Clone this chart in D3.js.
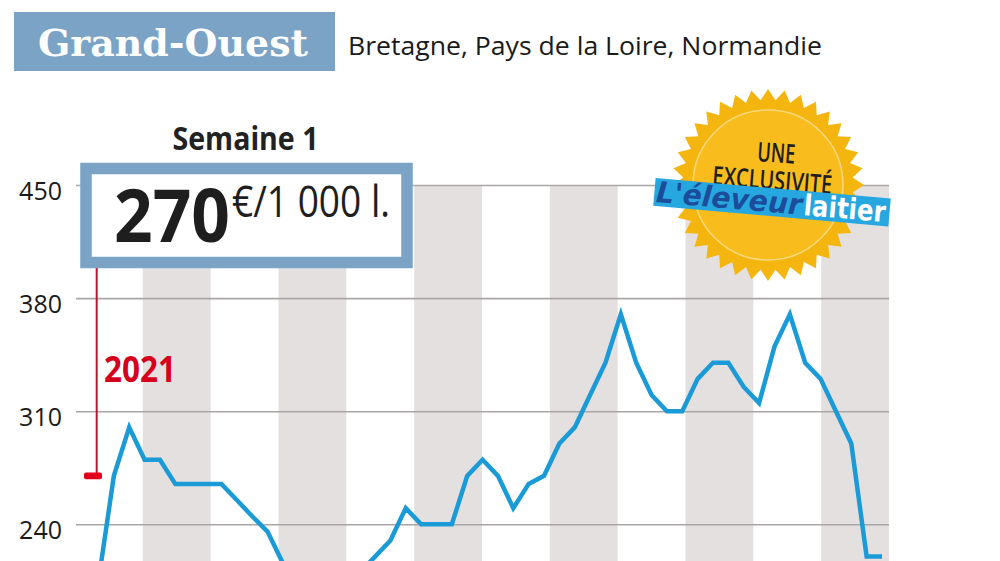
<!DOCTYPE html>
<html>
<head>
<meta charset="utf-8">
<script src="https://cdn.jsdelivr.net/npm/d3@7"></script>
<style>
  html, body { margin: 0; padding: 0; background: #fff; }
  svg { display: block; }
</style>
</head>
<body>
<div id="chart"></div>
<script>
// ---------- data ----------
const title = "Grand-Ouest";
const subtitle = "Bretagne, Pays de la Loire, Normandie";
const weekLabel = "Semaine 1";
const unitLabel = "€/1 000 l.";
const refYear = "2021";
const refValue = 270;
const months = ["janv.", "févr.", "mars", "avr.", "mai", "juin", "juil.", "août", "sept.", "oct.", "nov.", "déc."];
const weeks = [1,2,3,4,5,6,7,8,9,10,11,12,13,14,15,16,17,18,19,20,21,22,23,24,25,26,
               27,28,29,30,31,32,33,34,35,36,37,38,39,40,41,42,43,44,45,46,47,48,49,50,51,52];
const prices = [205,270,300,280,280,265,265,265,265,255,245,235.5,216,205,200,200,200,210,220,230,250,240,240,240,270,280,
                270,250,265,270,290,300,320,340,370,340,320,310,310,330,340,340,325,315,350,370,340,330,310,290,220,220];
const yTicks = [240, 310, 380, 450];

// ---------- setup ----------
const W = 1000, H = 561;
const svg = d3.select("#chart").append("svg").attr("width", W).attr("height", H);
const sans = "'Open Sans', 'Noto Sans', sans-serif";

const plotLeft = 76, plotRight = 889;
const y = d3.scaleLinear().domain([240, 450]).range([524.3, 185]);
const x = d3.scaleLinear().domain([1, 52]).range([98.5, 882]);
const xm = d3.scaleBand().domain(months).range([75, 889]).paddingInner(0);

// ---------- header ----------
svg.append("rect").attr("x", 14).attr("y", 12).attr("width", 321).attr("height", 59).attr("fill", "#7aa3c5");
svg.append("text").attr("x", 38).attr("y", 56)
  .attr("font-family", "'DejaVu Serif', serif").attr("font-weight", "bold").attr("font-size", 37)
  .attr("fill", "#fff").attr("textLength", 270).attr("lengthAdjust", "spacingAndGlyphs").text(title);
svg.append("text").attr("x", 348).attr("y", 55)
  .attr("font-family", sans).attr("font-size", 26).attr("fill", "#1a1a1a")
  .attr("textLength", 474).attr("lengthAdjust", "spacingAndGlyphs").text(subtitle);

// ---------- bands ----------
svg.append("g").selectAll("rect").data(months.filter((m, i) => i % 2 === 1)).join("rect")
  .attr("x", d => xm(d)).attr("width", xm.bandwidth())
  .attr("y", y(450)).attr("height", H - y(450))
  .attr("fill", "#e4e0e0");

// ---------- axis / grid ----------
const axis = svg.append("g").attr("transform", `translate(${plotLeft},0)`)
  .call(d3.axisLeft(y).tickValues(yTicks).tickSize(-(plotRight - plotLeft)).tickPadding(14).tickFormat(d3.format("d")));
axis.select(".domain").remove();
axis.selectAll(".tick line").attr("stroke", "#aaa6a6").attr("stroke-width", 1.6);
axis.selectAll(".tick text").attr("font-family", sans).attr("font-size", 25).attr("fill", "#1a1a1a")
  .attr("dy", "0.58em");

// ---------- line ----------
const line = d3.line().x((d, i) => x(weeks[i])).y(d => y(d));
svg.append("path").datum(prices).attr("d", line)
  .attr("fill", "none").attr("stroke", "#1a9ad6").attr("stroke-width", 4.5)
  .attr("stroke-linejoin", "miter").attr("stroke-miterlimit", 4);

// ---------- 2021 reference marker ----------
svg.append("line").attr("x1", 96.7).attr("x2", 96.7).attr("y1", 266).attr("y2", y(refValue))
  .attr("stroke", "#c0142d").attr("stroke-width", 2);
svg.append("rect").attr("x", 84).attr("y", y(refValue) - 3.3).attr("width", 18).attr("height", 6.6)
  .attr("rx", 2).attr("fill", "#e2001a");
svg.append("text").attr("x", 104).attr("y", 382)
  .attr("font-family", sans).attr("font-weight", "bold").attr("font-size", 35).attr("fill", "#d6001c")
  .attr("textLength", 72).attr("lengthAdjust", "spacingAndGlyphs").text(refYear);

// ---------- value box ----------
svg.append("text").attr("x", 245.5).attr("y", 150).attr("text-anchor", "middle")
  .attr("font-family", sans).attr("font-weight", "bold").attr("font-size", 33).attr("fill", "#222")
  .attr("textLength", 146).attr("lengthAdjust", "spacingAndGlyphs").text(weekLabel);
svg.append("rect").attr("x", 86).attr("y", 168.5).attr("width", 321).attr("height", 94)
  .attr("fill", "#fff").attr("stroke", "#7aa3c5").attr("stroke-width", 11.5);
svg.append("text").attr("x", 114).attr("y", 241.5)
  .attr("font-family", sans).attr("font-weight", "bold").attr("font-size", 74).attr("fill", "#1e1e1e")
  .attr("textLength", 116).attr("lengthAdjust", "spacingAndGlyphs").text(String(refValue));
svg.append("text").attr("x", 232).attr("y", 216.5)
  .attr("font-family", sans).attr("font-size", 43).attr("fill", "#1e1e1e")
  .attr("textLength", 158).attr("lengthAdjust", "spacingAndGlyphs").text(unitLabel);

// ---------- badge ----------
const badge = svg.append("g").attr("transform", "translate(768,185)");
const nTeeth = 36;
const starPts = d3.range(nTeeth * 2).map(i => [i * Math.PI / nTeeth, i % 2 === 0 ? 96 : 85]);
badge.append("path").attr("d", d3.lineRadial().curve(d3.curveLinearClosed)(starPts)).attr("fill", "#f5b50f");
badge.append("circle").attr("r", 75).attr("fill", "#f8bd1c").attr("stroke", "#fcd980").attr("stroke-width", 1.5);
badge.append("text").attr("x", 6).attr("y", -23).attr("text-anchor", "middle")
  .attr("transform", "rotate(4)")
  .attr("font-family", sans).attr("font-weight", 600).attr("font-size", 27).attr("fill", "#1e1e1e")
  .attr("textLength", 38).attr("lengthAdjust", "spacingAndGlyphs").text("UNE");
badge.append("text").attr("x", 4).attr("y", 4).attr("text-anchor", "middle")
  .attr("transform", "rotate(4.5)")
  .attr("font-family", sans).attr("font-weight", 600).attr("font-size", 26).attr("fill", "#1e1e1e")
  .attr("textLength", 120).attr("lengthAdjust", "spacingAndGlyphs").text("EXCLUSIVITÉ");
const banner = svg.append("g").attr("transform", "translate(770,202) rotate(5)");
banner.append("rect").attr("x", -116).attr("y", -14).attr("width", 236).attr("height", 28).attr("fill", "#27a7df");
banner.append("text").attr("x", -114).attr("y", 10)
  .attr("font-family", "'DejaVu Sans', sans-serif").attr("font-weight", "bold").attr("font-style", "italic")
  .attr("font-size", 29).attr("fill", "#1b4d9b")
  .attr("textLength", 146).attr("lengthAdjust", "spacingAndGlyphs").text("L'éleveur");
banner.append("text").attr("x", 34).attr("y", 10)
  .attr("font-family", "'DejaVu Sans', sans-serif").attr("font-weight", "bold")
  .attr("font-size", 29).attr("fill", "#fff")
  .attr("textLength", 82).attr("lengthAdjust", "spacingAndGlyphs").text("laitier");
</script>
</body>
</html>
